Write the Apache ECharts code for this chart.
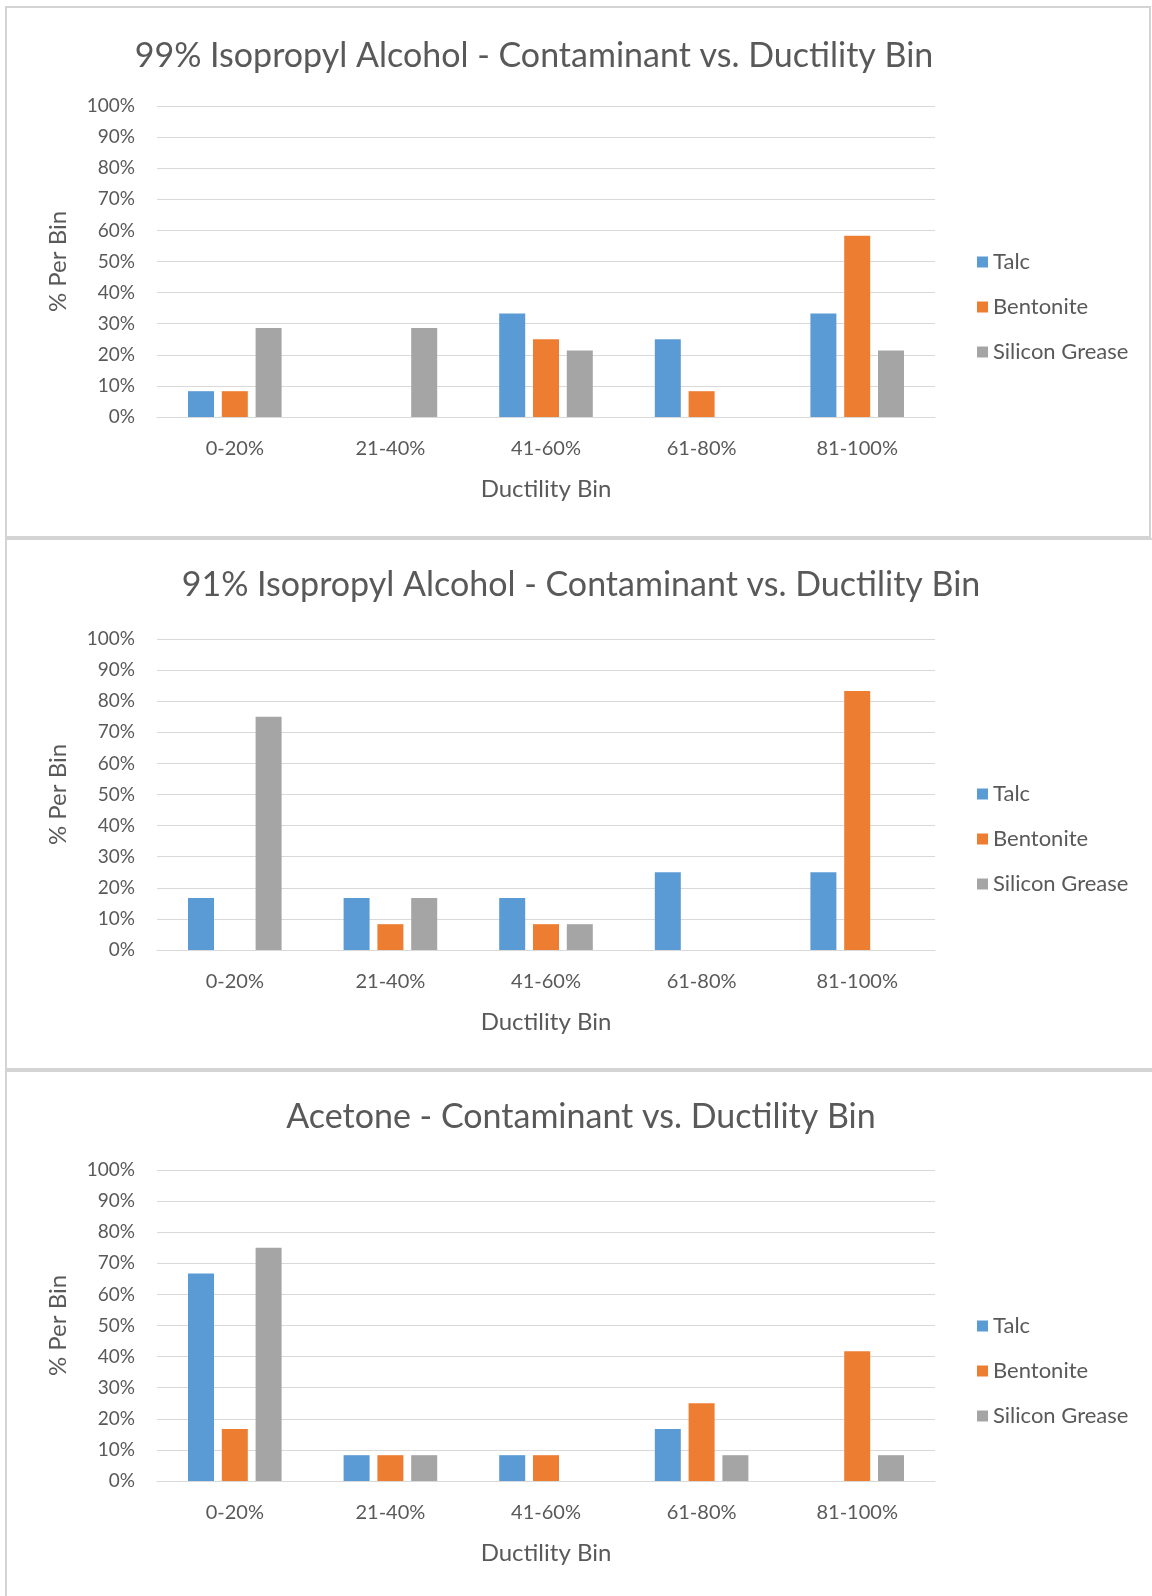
<!DOCTYPE html>
<html>
<head>
<meta charset="utf-8">
<script src="https://cdn.jsdelivr.net/npm/echarts@6/dist/echarts.min.js"></script>
<style>
    html, body { margin: 0; padding: 0; background: #fff; }
    #chart { width: 1152px; height: 1596px; }
</style>
</head>
<body>
<div id="chart"></div>
<script>
// ductility bins and contaminants
const bins = ['0-20%', '21-40%', '41-60%', '61-80%', '81-100%'];
const contaminants = ['Talc', 'Bentonite', 'Silicon Grease'];
const titles = [
    '99% Isopropyl Alcohol - Contaminant vs. Ductility Bin',
    '91% Isopropyl Alcohol - Contaminant vs. Ductility Bin',
    'Acetone - Contaminant vs. Ductility Bin'
];

// % per bin, one array per contaminant and solvent
const ipa99Talc = [8.3, 0, 33.3, 25, 33.3];
const ipa99Bentonite = [8.3, 0, 25, 8.3, 58.3];
const ipa99Grease = [28.6, 28.6, 21.4, 0, 21.4];

const ipa91Talc = [16.7, 16.7, 16.7, 25, 25];
const ipa91Bentonite = [0, 8.3, 8.3, 0, 83.3];
const ipa91Grease = [75, 16.7, 8.3, 0, 0];

const acetoneTalc = [66.7, 8.3, 8.3, 16.7, 0];
const acetoneBentonite = [16.7, 8.3, 8.3, 25, 41.7];
const acetoneGrease = [75, 8.3, 0, 8.3, 8.3];

const yTicks = [0, 10, 20, 30, 40, 50, 60, 70, 80, 90, 100];

const colors = ['#5B9BD5', '#ED7D31', '#A5A5A5'];
const font = 'Lato';
const textColor = '#595959';

const panels = [
    {top: 106, titleX: 534, titleY: 56, legendTop: 246, frame: [6, 7, 1144, 530], data: [ipa99Talc, ipa99Bentonite, ipa99Grease]},
    {top: 639, titleX: 581, titleY: 585, legendTop: 778, frame: [6, 539, 1150, 530], data: [ipa91Talc, ipa91Bentonite, ipa91Grease]},
    {top: 1170, titleX: 581, titleY: 1117, legendTop: 1310, frame: [6, 1071, 1150, 530], data: [acetoneTalc, acetoneBentonite, acetoneGrease]}
];

let chart = echarts.init(document.getElementById('chart'));

let option = {
    animation: false,
    color: colors,
    legend: [],
    grid: [],
    xAxis: [],
    yAxis: [],
    series: [],
    graphic: []
};

panels.forEach((p, i) => {
    option.graphic.push({
        type: 'rect',
        shape: {x: p.frame[0], y: p.frame[1], width: p.frame[2], height: p.frame[3]},
        style: {fill: 'none', stroke: '#d4d4d4', lineWidth: 2},
        silent: true
    });
    option.graphic.push({
        type: 'text',
        x: p.titleX,
        y: p.titleY,
        style: {
            text: titles[i],
            fill: textColor,
            font: '34px ' + font,
            textAlign: 'center',
            textVerticalAlign: 'middle'
        }
    });
    option.legend.push({
        orient: 'vertical',
        left: 972,
        top: p.legendTop,
        itemWidth: 11,
        itemHeight: 11,
        itemGap: 23,
        icon: 'rect',
        data: contaminants,
        textStyle: {fontFamily: font, fontSize: 22, color: textColor}
    });
    option.grid.push({left: 157, width: 778, top: p.top, height: 311});
    option.xAxis.push({
        type: 'category',
        gridIndex: i,
        data: bins,
        name: 'Ductility Bin',
        nameLocation: 'middle',
        nameGap: 60,
        nameTextStyle: {fontFamily: font, fontSize: 24, color: textColor},
        axisLine: {lineStyle: {color: '#d9d9d9'}},
        axisTick: {show: false},
        axisLabel: {fontFamily: font, fontSize: 20, color: textColor, margin: 22}
    });
    option.yAxis.push({
        type: 'value',
        gridIndex: i,
        min: yTicks[0],
        max: yTicks[yTicks.length - 1],
        interval: 10,
        name: '% Per Bin',
        nameLocation: 'middle',
        nameGap: 87,
        nameTextStyle: {fontFamily: font, fontSize: 24, color: textColor},
        axisLine: {show: false},
        axisTick: {show: false},
        splitLine: {lineStyle: {color: '#d9d9d9'}},
        axisLabel: {fontFamily: font, fontSize: 19, color: textColor, margin: 22, formatter: '{value}%'}
    });
    contaminants.forEach((name, k) => {
        option.series.push({
            name: name,
            type: 'bar',
            xAxisIndex: i,
            yAxisIndex: i,
            barWidth: 26,
            barGap: '30%',
            data: p.data[k]
        });
    });
});

chart.setOption(option);
</script>
</body>
</html>
